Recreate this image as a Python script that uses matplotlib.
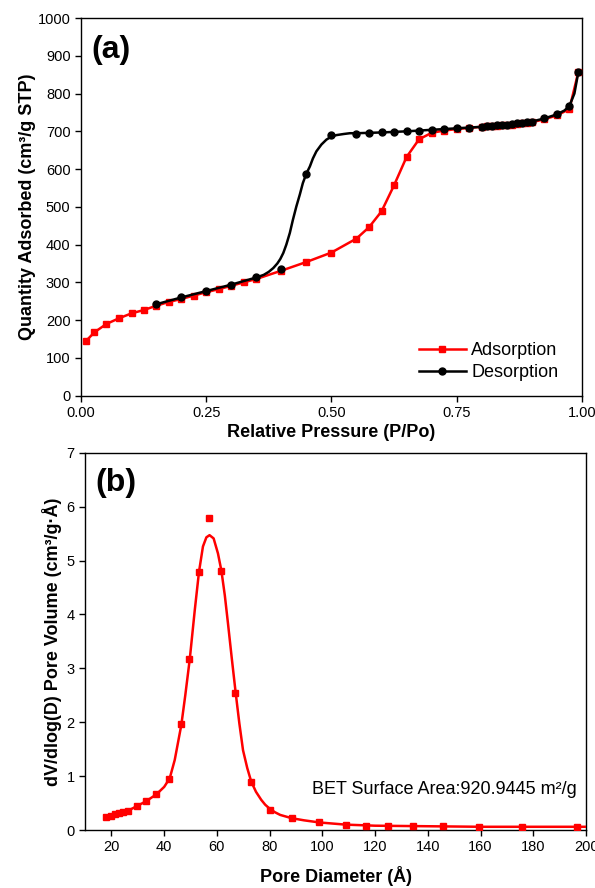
import matplotlib
matplotlib.use('Agg')
import matplotlib.pyplot as plt
from matplotlib.lines import Line2D
from matplotlib.ticker import FormatStrFormatter

plt.rcParams['font.family'] = ['Liberation Sans', 'DejaVu Sans']

# (a) isotherm - adsorption branch
ads_p = [0.011, 0.027, 0.051, 0.076, 0.101, 0.126, 0.15, 0.175, 0.2, 0.225, 0.25, 0.275,
         0.3, 0.325, 0.35, 0.40, 0.45, 0.50, 0.55, 0.575, 0.60, 0.625, 0.65, 0.675, 0.70,
         0.725, 0.75, 0.775, 0.80, 0.81, 0.82, 0.83, 0.84, 0.85, 0.86, 0.87, 0.88, 0.89,
         0.90, 0.925, 0.95, 0.975, 0.993]
ads_q = [146, 168, 190, 205, 218, 227, 238, 248, 256, 265, 274, 282,
         291, 300, 309, 331, 354, 379, 416, 446, 488, 557, 632, 679, 696,
         702, 706, 709, 712, 713, 714, 715, 716, 717, 718, 719, 721, 722,
         724, 732, 742, 759, 858]

# (a) desorption branch - measured points
des_p = [0.15, 0.20, 0.25, 0.30, 0.35, 0.40, 0.45, 0.50, 0.55, 0.575, 0.60, 0.625, 0.65,
         0.675, 0.70, 0.725, 0.75, 0.775, 0.80, 0.81, 0.82, 0.83, 0.84, 0.85, 0.86, 0.87,
         0.88, 0.89, 0.90, 0.925, 0.95, 0.975, 0.993]
des_q = [242, 260, 277, 294, 313, 335, 588, 690, 694, 695, 697, 699, 700,
         702, 704, 706, 708, 710, 712, 714, 715, 716, 717, 718, 719, 721,
         722, 724, 726, 734, 745, 767, 858]

# (a) desorption fitted curve
des_fit_p = [0.15, 0.20, 0.25, 0.30, 0.35, 0.365, 0.375, 0.384, 0.392, 0.398, 0.404, 0.41,
             0.417, 0.423, 0.43, 0.437, 0.443, 0.45, 0.457, 0.463, 0.47, 0.48, 0.49, 0.50,
             0.51, 0.525, 0.537, 0.55, 0.60, 0.65, 0.70, 0.75, 0.80, 0.85, 0.90, 0.925,
             0.95, 0.965, 0.975, 0.985, 0.993]
des_fit_q = [242, 260, 277, 294, 313, 320, 328, 338, 350, 362, 378, 400,
             431, 465, 501, 533, 563, 588, 607, 628, 647, 665, 678, 686,
             690, 693, 695, 695, 697, 700, 704, 708, 712, 718, 726, 734,
             745, 755, 767, 800, 858]

# (b) pore size distribution
pore_d = [17.8, 19.7, 21.4, 22.9, 24.4, 26.4, 29.5, 33.0, 37.0, 41.8, 46.3, 49.5,
          53.1, 57.1, 61.7, 66.8, 73.0, 80.1, 88.3, 98.9, 108.8, 116.6, 124.8,
          134.2, 145.6, 159.5, 175.7, 196.4]
pore_v = [0.25, 0.26, 0.29, 0.32, 0.34, 0.36, 0.44, 0.53, 0.66, 0.95, 1.96, 3.17,
          4.78, 5.79, 4.81, 2.55, 0.90, 0.37, 0.23, 0.14, 0.10, 0.08, 0.07,
          0.07, 0.07, 0.06, 0.06, 0.06]

# (b) fitted curve
fit_d = [17.8, 22.9, 26.4, 29.5, 33.0, 37.0, 40.0, 42.1, 44.0, 46.5, 48.0, 49.7, 51.6,
         53.2, 54.7, 56.0, 57.2, 58.75, 60.4, 61.7, 63.0, 64.2, 65.6, 67.1, 68.5, 69.9,
         71.5, 73.0, 74.8, 76.8, 78.3, 79.9, 82.0, 84.0, 88.3, 93.0, 98.9, 108.8, 120.0,
         140.0, 160.0, 180.0, 200.0]
fit_v = [0.25, 0.32, 0.36, 0.44, 0.53, 0.66, 0.80, 0.96, 1.30, 1.95, 2.50, 3.17, 4.08,
         4.79, 5.26, 5.43, 5.47, 5.41, 5.13, 4.81, 4.35, 3.83, 3.20, 2.55, 1.98, 1.48,
         1.15, 0.90, 0.71, 0.56, 0.47, 0.40, 0.33, 0.28, 0.22, 0.18, 0.14, 0.10, 0.08,
         0.07, 0.06, 0.06, 0.06]

bet_text = 'BET Surface Area:920.9445 m\u00b2/g'

fig = plt.figure(figsize=(5.95, 8.88), dpi=100)
ax1 = fig.add_axes([0.136, 0.5544, 0.842, 0.4253])
ax2 = fig.add_axes([0.143, 0.0653, 0.842, 0.4249])

# top panel
ax1.plot(ads_p, ads_q, color='red', lw=1.8, marker='s', ms=5, zorder=3)
ax1.plot(des_fit_p, des_fit_q, color='black', lw=1.8, zorder=4)
ax1.plot(des_p, des_q, ls='none', color='black', marker='o', ms=5, zorder=5)
ax1.set_xlim(0, 1)
ax1.set_ylim(0, 1000)
ax1.set_xticks([0, 0.25, 0.5, 0.75, 1.0])
ax1.set_yticks(range(0, 1001, 100))
ax1.xaxis.set_major_formatter(FormatStrFormatter('%.2f'))
ax1.set_xlabel('Relative Pressure (P/Po)', fontsize=13, fontweight='bold', labelpad=3)
ax1.set_ylabel('Quantity Adsorbed (cm\u00b3/g STP)', fontsize=13, fontweight='bold', labelpad=1)
ax1.text(0.02, 0.955, '(a)', transform=ax1.transAxes, fontsize=23,
         fontweight='bold', va='top', ha='left')
handles = [Line2D([], [], color='red', lw=1.8, marker='s', ms=5),
           Line2D([], [], color='black', lw=1.8, marker='o', ms=5)]
ax1.legend(handles, ['Adsorption', 'Desorption'], loc='lower right', frameon=False,
           fontsize=13, handlelength=2.6, handletextpad=0.3, labelspacing=0.3,
           bbox_to_anchor=(0.985, -0.005))

# bottom panel
ax2.plot(fit_d, fit_v, color='red', lw=1.8, zorder=3)
ax2.plot(pore_d, pore_v, ls='none', color='red', marker='s', ms=5, zorder=4)
ax2.set_xlim(10, 200)
ax2.set_ylim(0, 7)
ax2.set_xticks(range(20, 201, 20))
ax2.set_yticks(range(0, 8))
ax2.set_xlabel('Pore Diameter (\u00c5)', fontsize=13, fontweight='bold', labelpad=8)
ax2.set_ylabel('dV/dlog(D) Pore Volume (cm\u00b3/g\u00b7\u00c5)', fontsize=13,
               fontweight='bold', labelpad=3)
ax2.text(0.02, 0.96, '(b)', transform=ax2.transAxes, fontsize=23,
         fontweight='bold', va='top', ha='left')
ax2.text(0.452, 0.107, bet_text, transform=ax2.transAxes, fontsize=13,
         ha='left', va='center')

for ax in (ax1, ax2):
    ax.tick_params(direction='out', length=4, width=1, labelsize=10.5, top=False, right=False)
    for s in ax.spines.values():
        s.set_linewidth(1.0)

fig.savefig('out.png', dpi=100)
